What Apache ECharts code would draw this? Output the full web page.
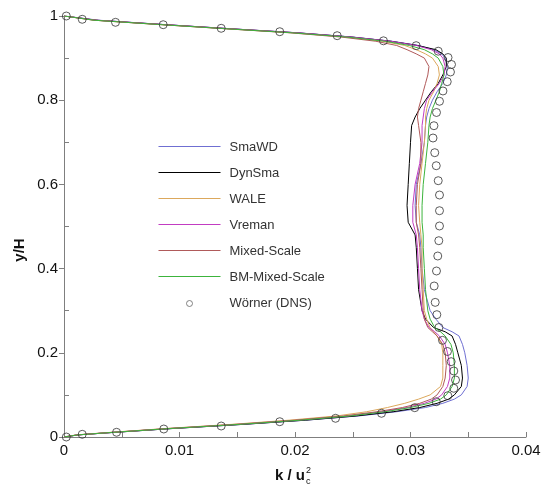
<!DOCTYPE html>
<html>
<head>
<meta charset="utf-8">
<script src="https://cdn.jsdelivr.net/npm/echarts@6/dist/echarts.min.js"></script>
<style>
html,body{margin:0;padding:0;background:#fff;}
#chart{width:547px;height:489px;}
</style>
</head>
<body>
<div id="chart"></div>
<script>
// ---------------- data ----------------
const seriesNames = ['SmaWD', 'DynSma', 'WALE', 'Vreman', 'Mixed-Scale', 'BM-Mixed-Scale'];
const dnsName = 'W\u00f6rner (DNS)';

// y/H stations shared by all LES profiles
const yLES = [0, 0.005, 0.01, 0.02, 0.03, 0.04, 0.05, 0.06, 0.07, 0.08, 0.09, 0.1, 0.12, 0.14, 0.17, 0.2, 0.22, 0.24, 0.25, 0.26, 0.28, 0.3, 0.35, 0.4, 0.45, 0.48, 0.51, 0.55, 0.6, 0.65, 0.7, 0.74, 0.76, 0.78, 0.8, 0.82, 0.84, 0.86, 0.88, 0.9, 0.91, 0.92, 0.93, 0.94, 0.95, 0.96, 0.97, 0.98, 0.99, 1.0];

const kSmaWD = [0, 0.0012, 0.0038, 0.0093, 0.0155, 0.0210, 0.0255, 0.0288, 0.0313, 0.0328, 0.0338, 0.0344, 0.0349, 0.0350, 0.0349, 0.0347, 0.0345, 0.0342, 0.0336, 0.0328, 0.0322, 0.0317, 0.0312, 0.0310, 0.0309, 0.0308, 0.0305, 0.0304, 0.0305, 0.0309, 0.0312, 0.0313, 0.0314, 0.0316, 0.0319, 0.0323, 0.0328, 0.0331, 0.0332, 0.0330, 0.0327, 0.0320, 0.0307, 0.0284, 0.0250, 0.0203, 0.0143, 0.0085, 0.0030, 0];
const kDynSma = [0, 0.0012, 0.0038, 0.0093, 0.0155, 0.0209, 0.0253, 0.0285, 0.0308, 0.0323, 0.0333, 0.0338, 0.0344, 0.0345, 0.0344, 0.0341, 0.0339, 0.0336, 0.0330, 0.0320, 0.0313, 0.0310, 0.0307, 0.0306, 0.0305, 0.0304, 0.0298, 0.0297, 0.0298, 0.0299, 0.0300, 0.0301, 0.0304, 0.0308, 0.0313, 0.0318, 0.0324, 0.0328, 0.0331, 0.0331, 0.0328, 0.0322, 0.0306, 0.0283, 0.0249, 0.0202, 0.0142, 0.0084, 0.0028, 0];
const kWALE = [0, 0.0011, 0.0035, 0.0087, 0.0145, 0.0195, 0.0236, 0.0262, 0.0280, 0.0295, 0.0307, 0.0317, 0.0326, 0.0328, 0.0328, 0.0328, 0.0327, 0.0323, 0.0320, 0.0317, 0.0314, 0.0312, 0.0311, 0.0310, 0.0310, 0.0309, 0.0308, 0.0307, 0.0308, 0.0310, 0.0312, 0.0313, 0.0313, 0.0314, 0.0316, 0.0320, 0.0323, 0.0325, 0.0324, 0.0319, 0.0313, 0.0305, 0.0295, 0.0276, 0.0244, 0.0198, 0.0139, 0.0081, 0.0026, 0];
const kVreman = [0, 0.0012, 0.0037, 0.0091, 0.0151, 0.0204, 0.0246, 0.0275, 0.0297, 0.0312, 0.0322, 0.0327, 0.0332, 0.0334, 0.0334, 0.0332, 0.0330, 0.0325, 0.0321, 0.0316, 0.0312, 0.0310, 0.0308, 0.0307, 0.0306, 0.0305, 0.0302, 0.0302, 0.0304, 0.0308, 0.0310, 0.0310, 0.0311, 0.0312, 0.0314, 0.0319, 0.0325, 0.0329, 0.0330, 0.0328, 0.0325, 0.0318, 0.0305, 0.0283, 0.0249, 0.0202, 0.0142, 0.0084, 0.0028, 0];
const kMixed = [0, 0.0011, 0.0036, 0.0089, 0.0148, 0.0200, 0.0242, 0.0271, 0.0293, 0.0308, 0.0318, 0.0323, 0.0328, 0.0330, 0.0331, 0.0330, 0.0328, 0.0323, 0.0319, 0.0315, 0.0312, 0.0311, 0.0310, 0.0309, 0.0308, 0.0307, 0.0305, 0.0305, 0.0306, 0.0309, 0.0309, 0.0307, 0.0306, 0.0307, 0.0309, 0.0311, 0.0313, 0.0315, 0.0316, 0.0312, 0.0305, 0.0297, 0.0288, 0.0270, 0.0240, 0.0196, 0.0138, 0.0081, 0.0026, 0];
const kBMMixed = [0, 0.0012, 0.0037, 0.0091, 0.0152, 0.0205, 0.0248, 0.0278, 0.0300, 0.0316, 0.0326, 0.0331, 0.0336, 0.0338, 0.0338, 0.0337, 0.0335, 0.0330, 0.0326, 0.0321, 0.0317, 0.0315, 0.0313, 0.0312, 0.0311, 0.0311, 0.0310, 0.0310, 0.0311, 0.0313, 0.0315, 0.0316, 0.0317, 0.0319, 0.0322, 0.0325, 0.0327, 0.0329, 0.0328, 0.0324, 0.0319, 0.0312, 0.0299, 0.0278, 0.0245, 0.0198, 0.0139, 0.0081, 0.0026, 0];

// DNS (Wörner) points
const kDNS = [0.0002, 0.00158, 0.00455, 0.00864, 0.01361, 0.01868, 0.02351, 0.02749, 0.03037, 0.03223, 0.03323, 0.03375, 0.0339, 0.03375, 0.03352, 0.0332, 0.03277, 0.03246, 0.03228, 0.03214, 0.03205, 0.03225, 0.03236, 0.03245, 0.03251, 0.03251, 0.03251, 0.0324, 0.03223, 0.0321, 0.03195, 0.03203, 0.03225, 0.03251, 0.03281, 0.03318, 0.03346, 0.03355, 0.03325, 0.0324, 0.03049, 0.02766, 0.02365, 0.01868, 0.01361, 0.00859, 0.00446, 0.00158, 0.0002];
const yDNS = [0, 0.0064, 0.0112, 0.019, 0.0261, 0.0363, 0.0444, 0.0563, 0.0696, 0.0838, 0.0981, 0.1157, 0.1354, 0.1568, 0.1789, 0.2031, 0.2296, 0.2601, 0.2906, 0.3198, 0.3587, 0.3943, 0.4299, 0.4663, 0.5012, 0.5375, 0.5748, 0.6088, 0.6444, 0.6753, 0.7102, 0.7394, 0.7708, 0.7974, 0.8219, 0.844, 0.867, 0.8848, 0.9014, 0.9164, 0.9295, 0.9411, 0.9532, 0.9627, 0.9708, 0.9793, 0.985, 0.9922, 1.0];

const yMinorTicks = [0.1, 0.3, 0.5, 0.7, 0.9];

// ---------------- chart ----------------
const lesK = [kSmaWD, kDynSma, kWALE, kVreman, kMixed, kBMMixed];
const colors = ['#6f6fd2', '#000000', '#dca85c', '#c23cc2', '#b05a5a', '#3cb43c'];
const FONT = 'Liberation Sans, Arial, sans-serif';
const LINE_ICON = 'path://M0,0M62,14M0,6L62,6L62,7L0,7Z';
const CIRCLE_ICON = 'path://M0,0M62,14M34,7A3,3,0,1,1,28,7A3,3,0,1,1,34,7Z';

const series = seriesNames.map((name, i) => ({
  name: name,
  type: 'line',
  symbol: 'none',
  showSymbol: false,
  animation: false,
  color: colors[i],
  lineStyle: { color: colors[i], width: 1 },
  itemStyle: { color: colors[i] },
  data: yLES.map((y, j) => [lesK[i][j], y])
}));
series.push({
  name: dnsName,
  type: 'scatter',
  symbol: 'circle',
  symbolSize: 8,
  animation: false,
  itemStyle: { color: 'rgba(0,0,0,0)', borderColor: '#333', borderWidth: 1 },
  data: yDNS.map((y, j) => [kDNS[j], y]),
  z: 5
});

const legendData = seriesNames.map((n, i) => ({ name: n, icon: LINE_ICON,
  itemStyle: { color: colors[i], borderColor: colors[i], borderWidth: 0, opacity: 1 } }));
legendData.push({ name: dnsName, icon: CIRCLE_ICON,
  itemStyle: { color: 'rgba(0,0,0,0)', borderColor: '#666', borderWidth: 1 } });

const chart = echarts.init(document.getElementById('chart'), null, { renderer: 'canvas' });
chart.setOption({
  backgroundColor: '#fff',
  animation: false,
  color: colors,
  grid: { left: 64, right: 21, top: 16, bottom: 52, containLabel: false },
  xAxis: {
    type: 'value', min: 0, max: 0.04, interval: 0.01,
    axisLine: { show: true, lineStyle: { color: '#7f7f7f', width: 1 } },
    axisTick: { show: true, inside: true, length: 5, lineStyle: { color: '#7f7f7f' } },
    minorTick: { show: true, splitNumber: 2, length: 5, lineStyle: { color: '#7f7f7f' } },
    splitLine: { show: false },
    axisLabel: { color: '#111', fontSize: 15, fontFamily: FONT, margin: 6,
      formatter: v => (v === 0 ? '0' : String(+v.toFixed(3))) }
  },
  yAxis: [{
    type: 'value', min: 0, max: 1, interval: 0.2,
    axisLine: { show: true, lineStyle: { color: '#7f7f7f', width: 1 } },
    axisTick: { show: true, inside: false, length: 5, lineStyle: { color: '#7f7f7f' } },
    splitLine: { show: false },
    axisLabel: { color: '#111', fontSize: 15, fontFamily: FONT, margin: 6,
      formatter: v => String(+v.toFixed(2)) }
  }, {
    type: 'value', min: 0, max: 1, position: 'left',
    axisLine: { show: false },
    axisTick: { show: true, inside: true, length: 5, customValues: yMinorTicks, lineStyle: { color: '#7f7f7f' } },
    axisLabel: { show: false },
    splitLine: { show: false }
  }],
  legend: {
    orient: 'vertical', left: 158, top: 140, padding: 0,
    itemWidth: 62, itemHeight: 14, itemGap: 12,
    textStyle: { fontSize: 13, fontFamily: FONT, color: '#333', padding: [0, 0, 0, 4] },
    data: legendData,
    selectedMode: false
  },
  graphic: [
    { type: 'text', x: 20, y: 250, rotation: Math.PI / 2,
      style: { text: 'y/H', font: 'bold 15px ' + FONT, fill: '#111', align: 'center', verticalAlign: 'middle' } },
    { type: 'text', x: 275, y: 476,
      style: { text: 'k / u', font: 'bold 15px ' + FONT, fill: '#111', align: 'left', verticalAlign: 'middle' } },
    { type: 'text', x: 306, y: 470.5,
      style: { text: '2', font: '9px ' + FONT, fill: '#111', align: 'left', verticalAlign: 'middle' } },
    { type: 'text', x: 306, y: 482,
      style: { text: 'c', font: '9px ' + FONT, fill: '#111', align: 'left', verticalAlign: 'middle' } }
  ],
  series: series
});
</script>
</body>
</html>
